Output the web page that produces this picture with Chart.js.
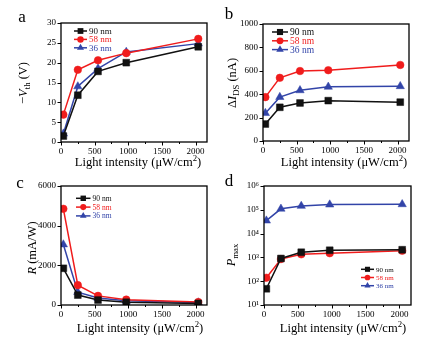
<!DOCTYPE html>
<html>
<head>
<meta charset="utf-8">
<script src="https://cdn.jsdelivr.net/npm/chart.js@4.4.1/dist/chart.umd.min.js"></script>
<style>
  html, body { margin: 0; padding: 0; background: #fff; }
  #wrap { position: relative; width: 440px; height: 343px; overflow: hidden; }
  .panel { position: absolute; }
</style>
</head>
<body>
<div id="wrap">
  <canvas id="pa" class="panel" width="220" height="170" style="left:0;top:0"></canvas>
  <canvas id="pb" class="panel" width="220" height="170" style="left:220px;top:0"></canvas>
  <canvas id="pc" class="panel" width="220" height="173" style="left:0;top:170px"></canvas>
  <canvas id="pd" class="panel" width="220" height="173" style="left:220px;top:170px"></canvas>
</div>
<script>
// Light intensity (µW/cm²) at which each device was measured
const intensity = [35, 250, 550, 970, 2040];
const seriesNames = ['90 nm', '58 nm', '36 nm'];

// (a) threshold voltage shift, -Vth (V)
const vth90 = [1.5, 11.8, 17.8, 20.0, 24.0];
const vth58 = [6.9, 18.2, 20.6, 22.4, 26.0];
const vth36 = [2.1, 14.0, 18.5, 22.7, 24.8];

// (b) photocurrent change, ΔIDS (nA)
const ids90 = [145, 288, 325, 345, 332];
const ids58 = [375, 540, 598, 605, 650];
const ids36 = [238, 375, 433, 463, 468];

// (c) responsivity, R (mA/W)
const r90 = [1850, 500, 250, 140, 80];
const r58 = [4850, 1000, 460, 270, 150];
const r36 = [3050, 650, 350, 210, 120];

// (d) photosensitivity, Pmax
const p90 = [48, 900, 1650, 2000, 2100];
const p58 = [140, 850, 1350, 1500, 1900];
const p36 = [35000, 110000, 145000, 165000, 170000];

const xTicks = [0, 500, 1000, 1500, 2000];
const xMinorTicks = [250, 750, 1250, 1750];

const COLORS = ['#111111', '#f01c1c', '#3244a8'];
const STYLES = ['rect', 'circle', 'triangle'];
const RADII = [4.8, 3.8, 4.8];
const SERIF = '"Liberation Serif", "Times New Roman", serif';

function datasets(a, b, c) {
  return [a, b, c].map((vals, i) => ({
    label: seriesNames[i],
    data: intensity.map((x, k) => ({ x: x, y: vals[k] })),
    borderColor: COLORS[i],
    backgroundColor: COLORS[i],
    borderWidth: 1.5,
    pointStyle: STYLES[i],
    pointRadius: RADII[i],
    pointBorderWidth: 0.5,
    pointBorderColor: COLORS[i],
    tension: 0
  }));
}

function drawMarker(ctx, style, r, x, y, color) {
  ctx.save();
  ctx.fillStyle = color;
  ctx.beginPath();
  if (style === 'rect') {
    const s = Math.SQRT1_2 * r;
    ctx.rect(x - s, y - s, 2 * s, 2 * s);
  } else if (style === 'circle') {
    ctx.arc(x, y, r, 0, Math.PI * 2);
  } else {
    ctx.moveTo(x, y - r);
    ctx.lineTo(x + r * Math.cos(Math.PI / 6), y + r * 0.5);
    ctx.lineTo(x - r * Math.cos(Math.PI / 6), y + r * 0.5);
    ctx.closePath();
  }
  ctx.fill();
  ctx.restore();
}

// Draw a run of text pieces (italic / subscript / superscript) centred on (cx, cy)
function drawRich(ctx, parts, cx, cy, size, rotate) {
  ctx.save();
  ctx.translate(cx, cy);
  if (rotate) ctx.rotate(-Math.PI / 2);
  ctx.textBaseline = 'middle';
  ctx.fillStyle = '#000';
  const fontFor = (p) => {
    const s = (p.sub || p.sup) ? size * 0.7 : size;
    return (p.i ? 'italic ' : '') + s + 'px ' + SERIF;
  };
  let total = 0;
  parts.forEach(p => { ctx.font = fontFor(p); total += ctx.measureText(p.t).width; });
  let x = -total / 2;
  parts.forEach(p => {
    ctx.font = fontFor(p);
    let dy = 0;
    if (p.sub) dy = size * 0.28;
    if (p.sup) dy = -size * 0.32;
    ctx.textAlign = 'left';
    ctx.fillText(p.t, x, dy);
    x += ctx.measureText(p.t).width;
  });
  ctx.restore();
}

function makePanel(id, cfg) {
  const decorations = {
    id: 'decor',
    afterDraw(chart) {
      const ctx = chart.ctx;
      const a = chart.chartArea;
      const xs = chart.scales.x, ys = chart.scales.y;
      ctx.save();
      // frame
      ctx.strokeStyle = '#000';
      ctx.lineWidth = 1.3;
      ctx.strokeRect(a.left, a.top, a.right - a.left, a.bottom - a.top);
      // x ticks, major and minor
      ctx.lineWidth = 1;
      ctx.beginPath();
      xTicks.forEach(v => { const p = Math.round(xs.getPixelForValue(v)) + 0.5; ctx.moveTo(p, a.bottom); ctx.lineTo(p, a.bottom + 3.5); });
      xMinorTicks.forEach(v => { const p = Math.round(xs.getPixelForValue(v)) + 0.5; ctx.moveTo(p, a.bottom); ctx.lineTo(p, a.bottom + 2); });
      // y ticks
      cfg.yTickValues.forEach(v => { const p = Math.round(ys.getPixelForValue(v)) + 0.5; ctx.moveTo(a.left, p); ctx.lineTo(a.left - 3.5, p); });
      ctx.stroke();
      // panel letter
      ctx.fillStyle = '#000';
      ctx.font = '17px ' + SERIF;
      ctx.textAlign = 'center';
      ctx.textBaseline = 'middle';
      ctx.fillText(cfg.letter, cfg.letterPos[0], cfg.letterPos[1]);
      // axis titles
      drawRich(ctx, [{ t: 'Light intensity (\u03bcW/cm' }, { t: '2', sup: true }, { t: ')' }], cfg.xTitlePos[0], cfg.xTitlePos[1], 12.5, false);
      drawRich(ctx, cfg.yTitle, cfg.yTitlePos[0], cfg.yTitlePos[1], 12.5, true);
      // legend
      const L = cfg.legend;
      seriesNames.forEach((name, i) => {
        const y = L.y + i * L.dy;
        ctx.strokeStyle = COLORS[i];
        ctx.lineWidth = 1.5;
        ctx.beginPath();
        ctx.moveTo(L.x, y);
        ctx.lineTo(L.x + L.w, y);
        ctx.stroke();
        drawMarker(ctx, STYLES[i], RADII[i] * L.scale, L.x + L.w / 2, y, COLORS[i]);
        ctx.fillStyle = COLORS[i];
        ctx.font = L.size + 'px ' + SERIF;
        ctx.textAlign = 'left';
        ctx.textBaseline = 'middle';
        ctx.fillText(name, L.x + L.w + 2, y + 0.5);
      });
      ctx.restore();
    }
  };

  const canvas = document.getElementById(id);
  return new Chart(canvas, {
    type: 'line',
    data: { datasets: cfg.data },
    options: {
      responsive: false,
      animation: false,
      devicePixelRatio: 1,
      layout: { padding: { left: 0, top: cfg.area.top, right: canvas.width - cfg.area.right, bottom: 0 } },
      plugins: { legend: { display: false }, tooltip: { enabled: false } },
      scales: {
        x: {
          type: 'linear',
          min: 0, max: 2170,
          afterBuildTicks(scale) { scale.ticks = xTicks.map(v => ({ value: v })); },
          afterFit(scale) { scale.height = canvas.height - cfg.area.bottom; },
          grid: { display: false, drawTicks: false },
          border: { display: false },
          ticks: { color: '#000', font: { family: SERIF, size: 9 }, padding: 4, maxRotation: 0, callback: v => String(v) }
        },
        y: {
          type: cfg.logY ? 'logarithmic' : 'linear',
          min: cfg.yMin, max: cfg.yMax,
          afterBuildTicks(scale) { scale.ticks = cfg.yTickValues.map(v => ({ value: v })); },
          afterFit(scale) { scale.width = cfg.area.left; },
          grid: { display: false, drawTicks: false },
          border: { display: false },
          ticks: {
            color: '#000', font: { family: SERIF, size: 9 }, padding: 5,
            callback: cfg.yLabel || (v => String(v))
          }
        }
      }
    },
    plugins: [decorations]
  });
}

const SUP = { 1: '\u00b9', 2: '\u00b2', 3: '\u00b3', 4: '\u2074', 5: '\u2075', 6: '\u2076' };

makePanel('pa', {
  data: datasets(vth90, vth58, vth36),
  area: { left: 61, right: 207, top: 23, bottom: 142 },
  yMin: 0, yMax: 30, yTickValues: [0, 5, 10, 15, 20, 25, 30],
  letter: 'a', letterPos: [22, 18],
  xTitlePos: [138, 163], yTitlePos: [24, 83],
  yTitle: [{ t: '\u2212' }, { t: 'V', i: true }, { t: 'th', sub: true }, { t: ' (V)' }],
  legend: { x: 74, y: 31, dy: 8.4, w: 13, size: 9, scale: 0.85 }
});

makePanel('pb', {
  data: datasets(ids90, ids58, ids36),
  area: { left: 43, right: 189, top: 24, bottom: 141 },
  yMin: 0, yMax: 1000, yTickValues: [0, 200, 400, 600, 800, 1000],
  letter: 'b', letterPos: [9, 15],
  xTitlePos: [124, 163], yTitlePos: [13, 83],
  yTitle: [{ t: '\u0394' }, { t: 'I', i: true }, { t: 'DS', sub: true }, { t: ' (nA)' }],
  legend: { x: 52, y: 32, dy: 8.8, w: 16, size: 9.5, scale: 0.9 }
});

makePanel('pc', {
  data: datasets(r90, r58, r36),
  area: { left: 61, right: 207, top: 16, bottom: 135 },
  yMin: 0, yMax: 6000, yTickValues: [0, 2000, 4000, 6000],
  letter: 'c', letterPos: [20, 14],
  xTitlePos: [140, 159], yTitlePos: [33, 78],
  yTitle: [{ t: 'R', i: true }, { t: ' (mA/W)' }],
  legend: { x: 76, y: 28.3, dy: 8.8, w: 14.5, size: 7.5, scale: 0.8 }
});

makePanel('pd', {
  data: datasets(p90, p58, p36),
  area: { left: 44, right: 191, top: 16, bottom: 135 },
  logY: true,
  yMin: 10, yMax: 1e6, yTickValues: [10, 100, 1000, 1e4, 1e5, 1e6],
  yLabel: v => '10' + SUP[Math.round(Math.log10(v))],
  letter: 'd', letterPos: [9, 12],
  xTitlePos: [123, 159], yTitlePos: [12, 85],
  yTitle: [{ t: 'P', i: true }, { t: 'max', sub: true }],
  legend: { x: 141, y: 99.3, dy: 8.2, w: 13, size: 7, scale: 0.75 }
});
</script>
</body>
</html>
